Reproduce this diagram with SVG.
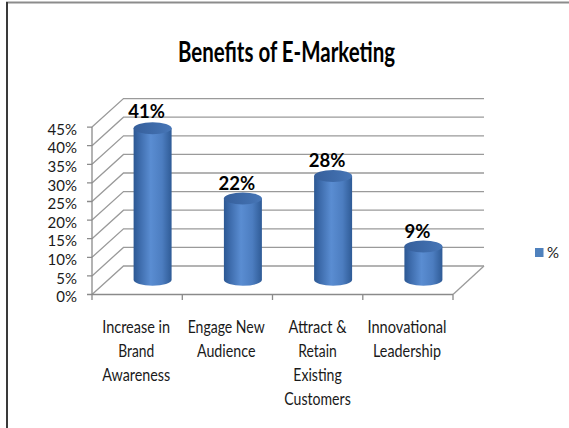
<svg xmlns="http://www.w3.org/2000/svg" width="569" height="428" viewBox="0 0 569 428">
<defs>
<linearGradient id="cyl" x1="0" y1="0" x2="1" y2="0">
<stop offset="0" stop-color="#2c5893"/>
<stop offset="0.15" stop-color="#3c6aaa"/>
<stop offset="0.45" stop-color="#5a8dd2"/>
<stop offset="0.75" stop-color="#4c7dc0"/>
<stop offset="1" stop-color="#2f5b96"/>
</linearGradient>
<linearGradient id="cylTop" x1="0" y1="0" x2="1" y2="0">
<stop offset="0" stop-color="#365f9b"/>
<stop offset="0.6" stop-color="#3f6cab"/>
<stop offset="1" stop-color="#4776b7"/>
</linearGradient>
<style>
.grid{stroke:#9a9a9a;stroke-width:1.3;fill:none}
.axis{stroke:#8a8a8a;stroke-width:1.3;fill:none}
.ylab{font-family:Lato,"Liberation Sans",sans-serif;font-size:15px;fill:#1a1a1a;text-anchor:end}
.cat{font-family:Lato,"Liberation Sans",sans-serif;font-size:16.5px;fill:#1a1a1a;text-anchor:middle}
.val{font-family:Lato,"Liberation Sans",sans-serif;font-size:18.5px;font-weight:bold;fill:#000;text-anchor:middle}
.title{font-family:Lato,"Liberation Sans",sans-serif;font-size:28.5px;font-weight:bold;fill:#000;text-anchor:middle}
.body{fill:url(#cyl)}
.top{fill:url(#cylTop)}
</style>
</defs>
<rect width="569" height="428" fill="#ffffff"/>
<g id="frame">
<line x1="6" y1="2.5" x2="569" y2="2.5" stroke="#8c8c8c" stroke-width="2"/>
<line x1="7" y1="2" x2="7" y2="428" stroke="#3a3a3a" stroke-width="2"/>
</g>
<g id="title">
<text class="title" x="286.5" y="62" textLength="217" lengthAdjust="spacingAndGlyphs">Benefits of E-Marketing</text>
</g>
<g id="gridlines">
<polyline class="grid" points="92,294.5 123.5,266 484,266"/>
<polyline class="grid" points="92,275.9 123.5,247.4 484,247.4"/>
<polyline class="grid" points="92,257.3 123.5,228.8 484,228.8"/>
<polyline class="grid" points="92,238.7 123.5,210.2 484,210.2"/>
<polyline class="grid" points="92,220.1 123.5,191.6 484,191.6"/>
<polyline class="grid" points="92,201.5 123.5,173 484,173"/>
<polyline class="grid" points="92,182.9 123.5,154.4 484,154.4"/>
<polyline class="grid" points="92,164.3 123.5,135.8 484,135.8"/>
<polyline class="grid" points="92,145.7 123.5,117.2 484,117.2"/>
<polyline class="grid" points="92,127.1 123.5,98.6 484,98.6"/>
<line class="grid" x1="453" y1="294.5" x2="484" y2="266"/>
</g>
<g id="axes">
<line class="axis" x1="92" y1="127.1" x2="92" y2="294.5"/>
<line class="axis" x1="92" y1="294.5" x2="453" y2="294.5"/>
<path class="axis" d="M87,294.5H92M87,275.9H92M87,257.3H92M87,238.7H92M87,220.1H92M87,201.5H92M87,182.9H92M87,164.3H92M87,145.7H92M87,127.1H92"/>
<path class="axis" d="M92,294.5V300M182.3,294.5V300M272.5,294.5V300M362.8,294.5V300M453,294.5V300"/>
</g>
<g id="y-labels">
<text class="ylab" x="77" y="302.2">0%</text>
<text class="ylab" x="77" y="283.6">5%</text>
<text class="ylab" x="77" y="265">10%</text>
<text class="ylab" x="77" y="246.4">15%</text>
<text class="ylab" x="77" y="227.8">20%</text>
<text class="ylab" x="77" y="209.2">25%</text>
<text class="ylab" x="77" y="190.6">30%</text>
<text class="ylab" x="77" y="172">35%</text>
<text class="ylab" x="77" y="153.4">40%</text>
<text class="ylab" x="77" y="134.8">45%</text>
</g>
<g id="bar-1">
<path class="body" d="M133.6,128.2 L133.6,279.8 A19,6 0 0 0 171.6,279.8 L171.6,128.2 Z"/>
<ellipse class="top" cx="152.6" cy="128.2" rx="19" ry="6"/>
<text class="val" x="146.6" y="118">41%</text>
</g>
<g id="bar-2">
<path class="body" d="M223.9,198.4 L223.9,279.8 A19,6 0 0 0 261.9,279.8 L261.9,198.4 Z"/>
<ellipse class="top" cx="242.9" cy="198.4" rx="19" ry="6"/>
<text class="val" x="236.9" y="190">22%</text>
</g>
<g id="bar-3">
<path class="body" d="M314.1,176 L314.1,279.8 A19,6 0 0 0 352.1,279.8 L352.1,176 Z"/>
<ellipse class="top" cx="333.1" cy="176" rx="19" ry="6"/>
<text class="val" x="327.1" y="167">28%</text>
</g>
<g id="bar-4">
<path class="body" d="M404.4,246.6 L404.4,279.8 A19,6 0 0 0 442.4,279.8 L442.4,246.6 Z"/>
<ellipse class="top" cx="423.4" cy="246.6" rx="19" ry="6"/>
<text class="val" x="417.4" y="238">9%</text>
</g>
<g id="category-labels">
<text class="cat" x="136.2" y="332.7" textLength="68" lengthAdjust="spacingAndGlyphs">Increase in</text>
<text class="cat" x="136.2" y="357" textLength="36" lengthAdjust="spacingAndGlyphs">Brand</text>
<text class="cat" x="136.2" y="381" textLength="68" lengthAdjust="spacingAndGlyphs">Awareness</text>
<text class="cat" x="226.2" y="332.7" textLength="77" lengthAdjust="spacingAndGlyphs">Engage New</text>
<text class="cat" x="226.2" y="357" textLength="58.5" lengthAdjust="spacingAndGlyphs">Audience</text>
<text class="cat" x="317.5" y="332.7" textLength="58" lengthAdjust="spacingAndGlyphs">Attract &amp;</text>
<text class="cat" x="317.5" y="357" textLength="38.5" lengthAdjust="spacingAndGlyphs">Retain</text>
<text class="cat" x="317.5" y="381" textLength="48.5" lengthAdjust="spacingAndGlyphs">Existing</text>
<text class="cat" x="317.5" y="405" textLength="66.5" lengthAdjust="spacingAndGlyphs">Customers</text>
<text class="cat" x="407" y="332.7" textLength="79" lengthAdjust="spacingAndGlyphs">Innovational</text>
<text class="cat" x="407" y="357" textLength="68" lengthAdjust="spacingAndGlyphs">Leadership</text>
</g>
<g id="legend">
<rect x="535" y="248" width="8.5" height="9" fill="#4f81bd"/>
<text x="547" y="258" font-family="Lato, 'Liberation Sans', sans-serif" font-size="15" fill="#1a1a1a">%</text>
</g>
</svg>
